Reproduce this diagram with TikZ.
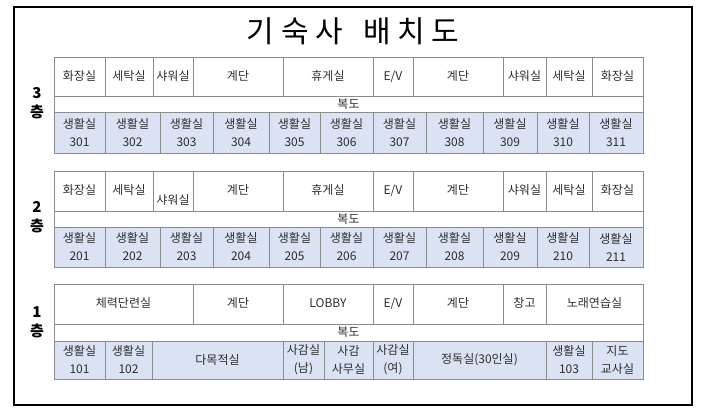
\documentclass[tikz,border=0pt]{standalone}
\usepackage{fontspec}
\setmainfont{Noto Sans CJK KR}
\definecolor{gridgray}{RGB}{140,140,140}
\definecolor{roomblue}{RGB}{218,226,243}
\definecolor{inkgray}{RGB}{45,45,45}
\tikzset{
  cell/.style={draw=gridgray, line width=0.7pt, inner sep=0pt, outer sep=0pt,
    align=center, text=inkgray, font=\fontsize{12}{18}\selectfont},
  topcell/.style={cell, text height=9pt, text depth=2pt},
  room/.style={cell, fill=roomblue},
  floorlbl/.style={font=\fontsize{15}{15}\selectfont\bfseries, text=black},
}
\begin{document}
\begin{tikzpicture}[x=1pt, y=-1pt]
\useasboundingbox (0,0) rectangle (701,415);
\draw[line width=2pt] (14,7) rectangle (692,405);
\node[text=black] (title) at (353,31)
  {\fontsize{30}{30}\selectfont 기\ 숙\ 사\ \ \ 배\ 치\ 도};
% 3층, 2층
\foreach \fl/\ya/\yb/\yc/\yd/\sdy in {3/57/96/112/153/0, 2/171/211/227/267/10} {
  \node[floorlbl] (num\fl) at (37,{\ya+36}) {\fl};
  \node[floorlbl] (cheung\fl) at (37,{\ya+55}) {층};
  \foreach \xa/\xb/\txt [count=\i] in {54/105/화장실, 105/153/세탁실,
      153/193/{\raisebox{-\sdy pt}{샤워실}}, 193/283/계단, 283/373/휴게실,
      373/413/{E/V}, 413/503/계단, 503/546/샤워실, 546/592/세탁실, 592/643/화장실}
    \node[topcell, minimum width={(\xb-\xa)*1pt}, minimum height={(\yb-\ya)*1pt}]
      (f\fl top\i) at ({(\xa+\xb)/2},{(\ya+\yb)/2}) {\txt};
  \node[cell, minimum width=589pt, minimum height={(\yc-\yb)*1pt}]
    (hall\fl) at (348.5,{(\yb+\yc)/2}) {복도};
  \foreach \xa/\xb [count=\k] in {54/105, 105/160, 160/213, 213/269, 269/320,
      320/373, 373/426, 426/483, 483/537, 537/589, 589/643} {
    \pgfmathtruncatemacro\num{\fl*100+\k}
    \node[room, minimum width={(\xb-\xa)*1pt}, minimum height={(\yd-\yc)*1pt}]
      (room\num) at ({(\xa+\xb)/2},{(\yc+\yd)/2}) {생활실\\\num};
  }
}
% 1층
\node[floorlbl] (num1) at (37,312) {1};
\node[floorlbl] (cheung1) at (37,331) {층};
\foreach \xa/\xb/\txt [count=\i] in {54/193/체력단련실, 193/283/계단, 283/373/LOBBY,
    373/413/{E/V}, 413/503/계단, 503/546/창고, 546/643/노래연습실}
  \node[topcell, minimum width={(\xb-\xa)*1pt}, minimum height=40pt]
    (f1top\i) at ({(\xa+\xb)/2},304) {\txt};
\node[cell, minimum width=589pt, minimum height=17pt] (hall1) at (348.5,332.5) {복도};
\foreach \xa/\xb/\txt [count=\i] in {54/105/{생활실\\101}, 105/152/{생활실\\102},
    152/283/다목적실, 283/324/{사감실\\(남)}, 324/373/{사감\\사무실},
    373/413/{사감실\\(여)}, 413/546/정독실(30인실), 546/592/{생활실\\103},
    592/643/{지도\\교사실}}
  \node[room, minimum width={(\xb-\xa)*1pt}, minimum height=38pt]
    (f1room\i) at ({(\xa+\xb)/2},360) {\txt};
\end{tikzpicture}
\end{document}
